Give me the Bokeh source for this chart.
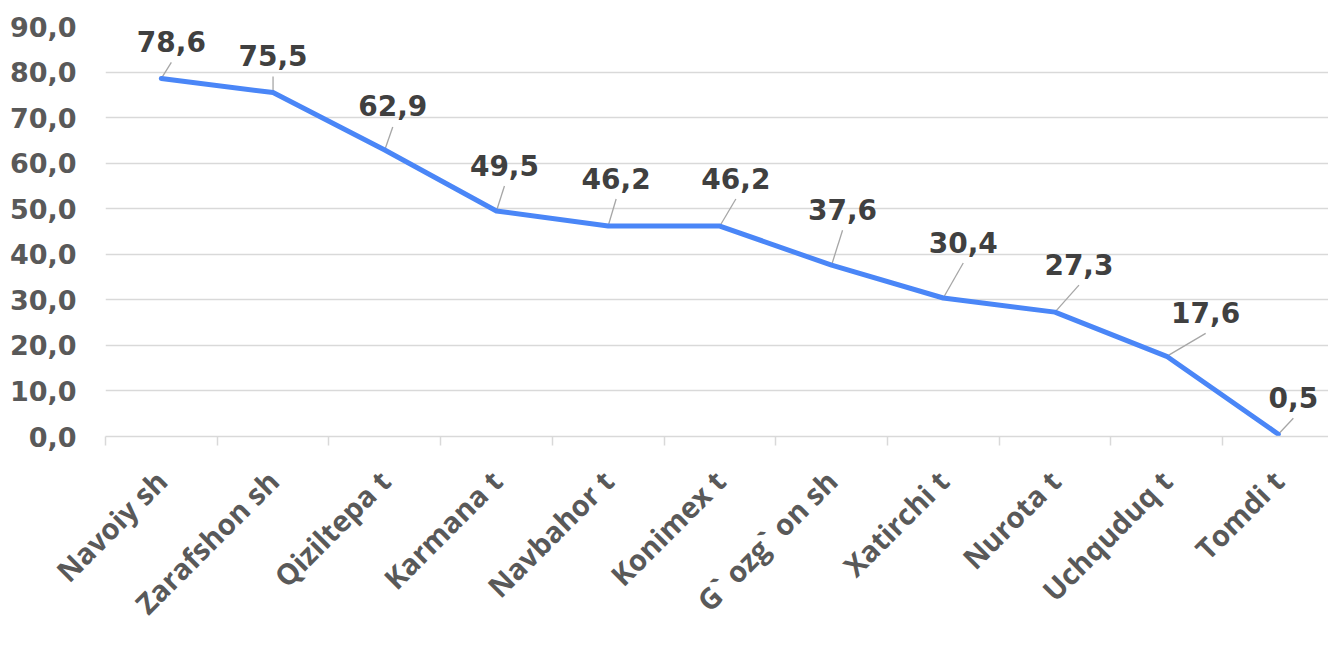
import math
from bokeh.plotting import figure
from bokeh.models import Range1d, FixedTicker, Legend, LegendItem, ColumnDataSource
from bokeh.core.properties import value
from bokeh.embed import file_html
from bokeh.resources import INLINE

# ---------------- data ----------------
categories = ["Navoiy sh", "Zarafshon sh", "Qiziltepa t", "Karmana t", "Navbahor t",
              "Konimex t", "G` ozg` on sh", "Xatirchi t", "Nurota t", "Uchquduq t", "Tomdi t"]
values = [78.6, 75.5, 62.9, 49.5, 46.2, 46.2, 37.6, 30.4, 27.3, 17.6, 0.5]
value_labels = ["78,6", "75,5", "62,9", "49,5", "46,2", "46,2", "37,6", "30,4", "27,3", "17,6", "0,5"]
y_ticks = [0, 10, 20, 30, 40, 50, 60, 70, 80, 90]
y_tick_labels = ["0,0", "10,0", "20,0", "30,0", "40,0", "50,0", "60,0", "70,0", "80,0", "90,0"]
series_name = "Yanvar-may 2024"

# ---------------- style ----------------
label_dx = [10, 0, 8, 8, 8, 16, 11, 20, 24, 39, 15]      # px offsets of data labels
label_dy = [-37, -37, -44, -46, -48, -48, -56, -56, -48, -44, -37]
LEADER_GAP = 21

W, H = 1328, 655
LEFT, TOP = 105, 26
FRAME_W, FRAME_H = W - LEFT, 410
CAT_PX = 111.7
X_END = FRAME_W / CAT_PX
Y_MAX = 90
PX_X = FRAME_W / X_END
PX_Y = FRAME_H / Y_MAX

LINE_COLOR = "#4a86f7"
GRID = "#d9d9d9"
AX_TXT = "#595959"
LBL_TXT = "#404040"
NUM_FONT = "DejaVu Sans"
CAT_FONT = "Open Sans"

xs = [i + 0.5 for i in range(len(categories))]
lead_x1 = [x + dx / PX_X for x, dx in zip(xs, label_dx)]
lead_y1 = [v - (dy + LEADER_GAP) / PX_Y for v, dy in zip(values, label_dy)]

src = ColumnDataSource(dict(x=xs, y=values, lab=value_labels, dx=label_dx, dy=label_dy,
                            lx=lead_x1, ly=lead_y1))

p = figure(frame_width=FRAME_W, frame_height=FRAME_H,
           x_range=Range1d(0, X_END), y_range=Range1d(0, Y_MAX),
           output_backend="svg", toolbar_location=None,
           min_border_left=LEFT, min_border_right=0, min_border_top=TOP,
           min_border_bottom=0)
p.outline_line_color = None
p.background_fill_color = "white"
p.border_fill_color = "white"

p.xgrid.visible = False
p.ygrid.ticker = FixedTicker(ticks=y_ticks)
p.ygrid.grid_line_color = GRID
p.ygrid.grid_line_width = 1.5

ya = p.yaxis[0]
ya.ticker = FixedTicker(ticks=y_ticks)
ya.major_label_overrides = {t: s for t, s in zip(y_ticks, y_tick_labels)}
ya.axis_line_color = None
ya.major_tick_line_color = None
ya.minor_tick_line_color = None
ya.major_tick_out = 0
ya.major_tick_in = 0
ya.major_label_standoff = 29
ya.major_label_text_font = NUM_FONT
ya.major_label_text_font_style = "bold"
ya.major_label_text_font_size = "27px"
ya.major_label_text_color = AX_TXT

xa = p.xaxis[0]
xa.ticker = FixedTicker(ticks=xs, minor_ticks=list(range(len(categories) + 1)))
xa.major_label_overrides = {x: c for x, c in zip(xs, categories)}
xa.axis_line_color = GRID
xa.axis_line_width = 1.5
xa.major_tick_line_color = None
xa.major_tick_out = 0
xa.major_tick_in = 0
xa.minor_tick_in = 0
xa.minor_tick_out = 9
xa.minor_tick_line_color = GRID
xa.minor_tick_line_width = 1.5
xa.major_label_orientation = math.pi / 4
xa.major_label_standoff = 30
xa.major_label_text_font = CAT_FONT
xa.major_label_text_font_style = "bold"
xa.major_label_text_font_size = "29px"
xa.major_label_text_line_height = 0.7
xa.major_label_text_color = AX_TXT

p.segment(x0="x", y0="y", x1="lx", y1="ly", source=src, line_color="#a6a6a6", line_width=1.3)
r = p.line(x="x", y="y", source=src, line_color=LINE_COLOR, line_width=5,
           line_join="round", line_cap="round")
p.text(x="x", y="y", text="lab", x_offset="dx", y_offset="dy", source=src,
       text_align="center", text_baseline="middle",
       text_font=value(NUM_FONT), text_font_style="bold", text_font_size="28px",
       text_color=LBL_TXT)

legend = Legend(items=[LegendItem(label=series_name, renderers=[r])],
                location="center", orientation="horizontal",
                padding=0, margin=0, border_line_color=None, background_fill_alpha=0,
                glyph_width=57, glyph_height=18, label_standoff=3, label_height=18,
                label_text_font=NUM_FONT, label_text_font_style="bold",
                label_text_font_size="26px", label_text_line_height=0.9,
                label_text_color=AX_TXT)
p.add_layout(legend, "below")

open("out.html", "w").write(file_html(p, INLINE))
